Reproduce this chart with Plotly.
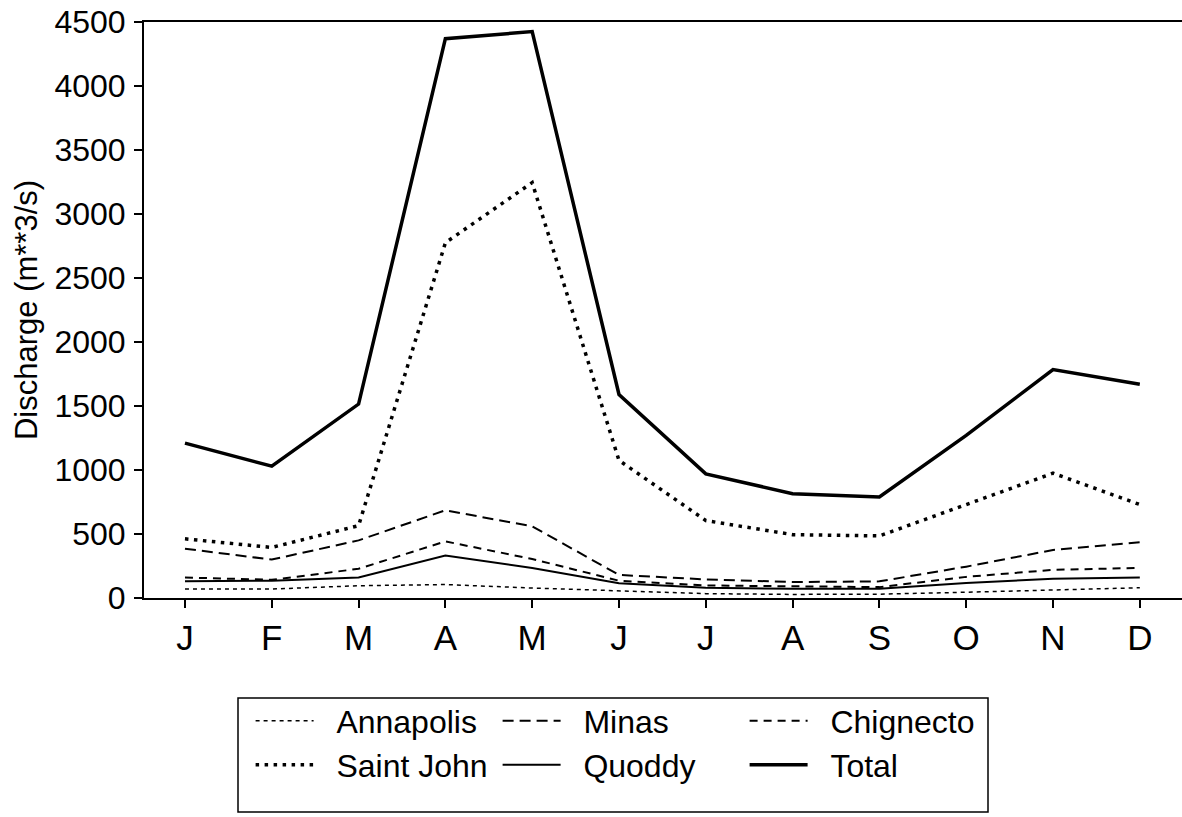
import plotly.graph_objects as go

months = ["J", "F", "M", "A", "M", "J", "J", "A", "S", "O", "N", "D"]
month_idx = list(range(len(months)))

annapolis = [70, 70, 96, 105, 78, 58, 34, 28, 30, 45, 65, 80]
minas = [385, 300, 450, 685, 560, 180, 145, 125, 130, 245, 375, 435]
chignecto = [160, 142, 228, 442, 305, 135, 98, 92, 85, 165, 220, 235]
saint_john = [462, 395, 565, 2775, 3245, 1075, 605, 495, 485, 730, 975, 730]
quoddy = [130, 135, 160, 332, 235, 115, 80, 72, 72, 118, 150, 160]
total = [1210, 1030, 1515, 4370, 4425, 1590, 970, 815, 790, 1270, 1785, 1670]

y_ticks = [0, 500, 1000, 1500, 2000, 2500, 3000, 3500, 4000, 4500]

FONT = "Liberation Sans, Arial, sans-serif"
NB = "\u00a0\u00a0"

series = [
    ("Annapolis", annapolis, 1.5, "4px,4px", "legend"),
    ("Minas", minas, 2, "11px,6px", "legend"),
    ("Chignecto", chignecto, 2, "8px,6px", "legend"),
    ("Saint John", saint_john, 3.5, "3.5px,5.5px", "legend2"),
    ("Quoddy", quoddy, 2, "solid", "legend2"),
    ("Total", total, 3.5, "solid", "legend2"),
]

fig = go.Figure()
for name, vals, w, dash, lg in series:
    fig.add_trace(go.Scatter(
        x=month_idx, y=vals, mode="lines", name=NB + name,
        line=dict(color="black", width=w, dash=dash),
        legend=lg, hoverinfo="skip",
    ))

legend_common = dict(
    orientation="h", xanchor="left", yanchor="middle",
    font=dict(family=FONT, size=32, color="black"),
    bgcolor="rgba(0,0,0,0)", borderwidth=0,
    itemwidth=58, entrywidth=174, tracegroupgap=0,
)

T, B = 22, 219
H = 817 - T - B
AX = 817 - B

fig.update_layout(
    width=1182, height=817,
    margin=dict(l=144, r=0, t=T, b=B),
    paper_bgcolor="white", plot_bgcolor="white",
    font=dict(family=FONT, size=31, color="black"),
    showlegend=True,
    legend=dict(x=0.1027, y=(AX - 721) / H, **legend_common),
    legend2=dict(x=0.1027, y=(AX - 765) / H, **legend_common),
    xaxis=dict(
        range=[-0.472, 11.486], tickmode="array", tickvals=month_idx, ticktext=months,
        showgrid=False, zeroline=False, showline=True, linecolor="black", linewidth=2,
        mirror=True, ticks="outside", ticklen=8, tickwidth=1.5, tickcolor="black",
        tickfont=dict(family=FONT, size=35, color="black"),
    ),
    yaxis=dict(
        range=[0, 4500], tickmode="array", tickvals=y_ticks,
        showgrid=False, zeroline=False, showline=True, linecolor="black", linewidth=2,
        ticks="outside", ticklen=8, tickwidth=1.5, tickcolor="black",
        ticklabelstandoff=2,
        tickfont=dict(family=FONT, size=32, color="black"),
        title=dict(text="Discharge (m**3/s)", font=dict(family=FONT, size=31, color="black"), standoff=8),
    ),
    shapes=[dict(
        type="rect", xref="paper", yref="paper",
        x0=(238 - 144) / 1038, x1=(988 - 144) / 1038,
        y0=(AX - 812) / H, y1=(AX - 698) / H,
        line=dict(color="black", width=1.5), fillcolor="rgba(0,0,0,0)",
    )],
)

fig.write_html("out.html")
